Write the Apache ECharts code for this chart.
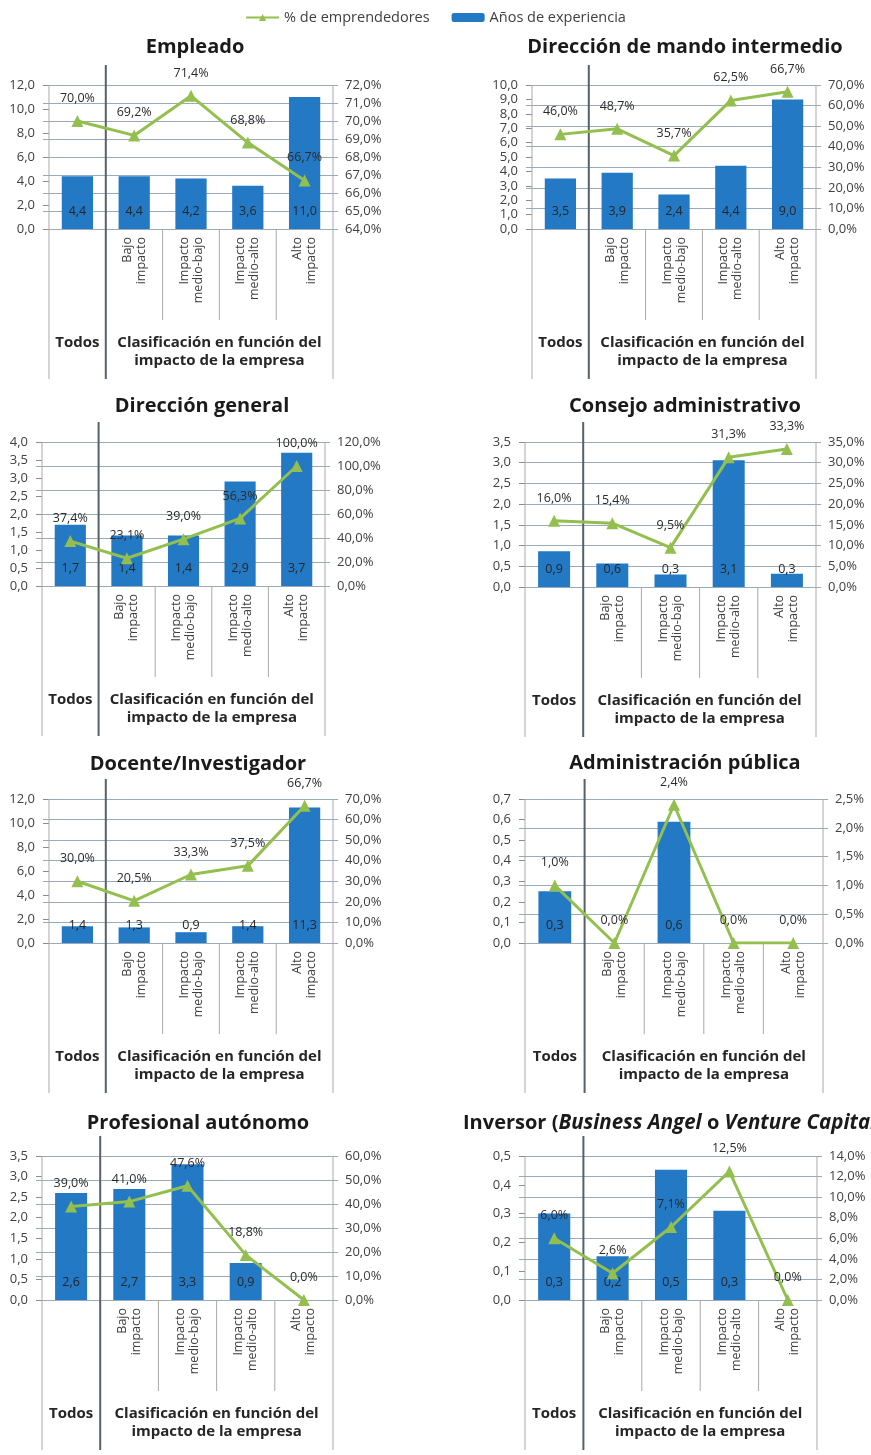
<!DOCTYPE html>
<html>
<head>
<meta charset="utf-8">
<script src="https://cdn.jsdelivr.net/npm/echarts@6/dist/echarts.min.js"></script>
<style>
  html, body { margin: 0; padding: 0; background: #ffffff; }
  #chart { width: 871px; height: 1455px; }
</style>
</head>
<body>
<div id="chart"></div>
<script>
// ---- Categories and labels ----
const categories = ['Todos', 'Bajo\nimpacto', 'Impacto\nmedio-bajo', 'Impacto\nmedio-alto', 'Alto\nimpacto'];
const groupLabel = 'Clasificación en función del\nimpacto de la empresa';
const allLabel = 'Todos';
const barName = 'Años de experiencia';
const lineName = '% de emprendedores';

// ---- Empleado ----
const empleadoYears = [4.4, 4.4, 4.2, 3.6, 11.0];
const empleadoPct = [70.0, 69.2, 71.4, 68.8, 66.7];
const empleadoLeftTicks = [0, 12, 2];
const empleadoRightTicks = [64, 72, 1];

// ---- Dirección de mando intermedio ----
const mandoYears = [3.5, 3.9, 2.4, 4.4, 9.0];
const mandoPct = [46.0, 48.7, 35.7, 62.5, 66.7];
const mandoLeftTicks = [0, 10, 1];
const mandoRightTicks = [0, 70, 10];

// ---- Dirección general ----
const generalYears = [1.7, 1.4, 1.4, 2.9, 3.7];
const generalPct = [37.4, 23.1, 39.0, 56.3, 100.0];
const generalLeftTicks = [0, 4, 0.5];
const generalRightTicks = [0, 120, 20];

// ---- Consejo administrativo ----
const consejoYears = [0.86, 0.57, 0.3, 3.06, 0.32];
const consejoPct = [16.0, 15.4, 9.5, 31.3, 33.3];
const consejoLeftTicks = [0, 3.5, 0.5];
const consejoRightTicks = [0, 35, 5];

// ---- Docente/Investigador ----
const docenteYears = [1.4, 1.3, 0.9, 1.4, 11.3];
const docentePct = [30.0, 20.5, 33.3, 37.5, 66.7];
const docenteLeftTicks = [0, 12, 2];
const docenteRightTicks = [0, 70, 10];

// ---- Administración pública ----
const publicaYears = [0.252, null, 0.59, null, null];
const publicaPct = [1.0, 0.0, 2.4, 0.0, 0.0];
const publicaLeftTicks = [0, 0.7, 0.1];
const publicaRightTicks = [0, 2.5, 0.5];

// ---- Profesional autónomo ----
const autonomoYears = [2.6, 2.7, 3.3, 0.9, null];
const autonomoPct = [39.0, 41.0, 47.6, 18.8, 0.0];
const autonomoLeftTicks = [0, 3.5, 0.5];
const autonomoRightTicks = [0, 60, 10];

// ---- Inversor ----
const inversorYears = [0.3, 0.152, 0.452, 0.31, null];
const inversorPct = [6.0, 2.6, 7.1, 12.5, 0.0];
const inversorLeftTicks = [0, 0.5, 0.1];
const inversorRightTicks = [0, 14, 2];

// ---- Styling ----
const FONT = '"Open Sans", "Noto Sans", sans-serif';
const BAR_COLOR = '#2379c4';
const LINE_COLOR = '#93bf4e';
const GRID_COLOR = '#98aabb';
const BORDER_COLOR = '#a9a9a9';
const DIVIDER_COLOR = '#56616b';
const TEXT_COLOR = '#404040';
const TITLE_SIZE = 20;

const fmt1 = v => (Math.round(v * 10) / 10).toFixed(1).replace('.', ',');

// Panel layout: plot box (L, R, T, B) and title placement
const panels = [
  { title: 'Empleado', tx: 195, ty: 47, L: 49, R: 333, T: 85, B: 229,
    years: empleadoYears, pct: empleadoPct, lt: empleadoLeftTicks, rt: empleadoRightTicks },
  { title: 'Dirección de mando intermedio', tx: 685, ty: 47, L: 532, R: 816, T: 85, B: 229,
    years: mandoYears, pct: mandoPct, lt: mandoLeftTicks, rt: mandoRightTicks },
  { title: 'Dirección general', tx: 202, ty: 406, L: 42, R: 325, T: 442, B: 586,
    years: generalYears, pct: generalPct, lt: generalLeftTicks, rt: generalRightTicks },
  { title: 'Consejo administrativo', tx: 685, ty: 406, L: 525, R: 816, T: 442, B: 587,
    years: consejoYears, pct: consejoPct, lt: consejoLeftTicks, rt: consejoRightTicks },
  { title: 'Docente/Investigador', tx: 198, ty: 764, L: 49, R: 333, T: 799, B: 943,
    years: docenteYears, pct: docentePct, lt: docenteLeftTicks, rt: docenteRightTicks },
  { title: 'Administración pública', tx: 685, ty: 763, L: 525, R: 823, T: 799, B: 943,
    years: publicaYears, pct: publicaPct, lt: publicaLeftTicks, rt: publicaRightTicks },
  { title: 'Profesional autónomo', tx: 198, ty: 1123, L: 42, R: 333, T: 1156, B: 1300,
    years: autonomoYears, pct: autonomoPct, lt: autonomoLeftTicks, rt: autonomoRightTicks },
  { title: null, tx: 463, ty: 1123, L: 525, R: 817, T: 1156, B: 1300,
    years: inversorYears, pct: inversorPct, lt: inversorLeftTicks, rt: inversorRightTicks }
];

const grid = [], xAxis = [], yAxis = [], series = [], graphic = [];

panels.forEach((p, i) => {
  const w = p.R - p.L, h = p.B - p.T;
  const gMain = i * 2, gLines = i * 2 + 1;

  grid.push({ left: p.L, top: p.T, width: w, height: h, containLabel: false, outerBoundsMode: 'none' });
  // wider twin grid carrying only the horizontal rules (they overhang the plot a little)
  grid.push({ left: p.L - 6, top: p.T, width: w + 11, height: h, containLabel: false, outerBoundsMode: 'none' });

  xAxis.push({
    type: 'category', gridIndex: gMain, data: categories, boundaryGap: true,
    axisLine: { show: false }, axisTick: { show: false },
    axisLabel: {
      interval: 0, rotate: 90, margin: 8, fontSize: 12.5, lineHeight: 14,
      color: TEXT_COLOR, fontFamily: FONT,
      formatter: (v, idx) => idx === 0 ? '' : v
    }
  });
  xAxis.push({ type: 'value', gridIndex: gLines, min: 0, max: 1, show: false });

  yAxis.push({
    type: 'value', gridIndex: gMain, position: 'left',
    min: p.lt[0], max: p.lt[1], interval: p.lt[2],
    axisLine: { show: false },
    axisTick: { show: true, length: 6, lineStyle: { color: '#8c8c8c' } },
    splitLine: { show: false },
    axisLabel: { margin: 14, fontSize: 13, color: TEXT_COLOR, fontFamily: FONT, formatter: v => fmt1(v) }
  });
  yAxis.push({
    type: 'value', gridIndex: gMain, position: 'right',
    min: p.rt[0], max: p.rt[1], interval: p.rt[2],
    axisLine: { show: false }, axisTick: { show: false }, splitLine: { show: false },
    axisLabel: { margin: 12, fontSize: 13, color: TEXT_COLOR, fontFamily: FONT, formatter: v => fmt1(v) + '%' }
  });
  yAxis.push({
    type: 'value', gridIndex: gLines,
    min: p.rt[0], max: p.rt[1], interval: p.rt[2],
    axisLine: { show: false }, axisTick: { show: false }, axisLabel: { show: false },
    splitLine: { show: true, lineStyle: { color: GRID_COLOR, width: 1 } }
  });

  series.push({
    name: barName, type: 'bar', xAxisIndex: gMain, yAxisIndex: i * 3,
    data: p.years, barWidth: '55%',
    itemStyle: { color: BAR_COLOR },
    label: {
      show: true, position: 'insideBottom', distance: 11,
      color: '#262626', fontSize: 12.5, fontFamily: FONT, textBorderWidth: 0,
      formatter: d => d.value == null ? '' : fmt1(d.value)
    },
    z: 3
  });
  series.push({
    name: lineName, type: 'line', xAxisIndex: gMain, yAxisIndex: i * 3 + 1,
    data: p.pct, symbol: 'triangle', symbolSize: 12,
    lineStyle: { color: LINE_COLOR, width: 3 },
    itemStyle: { color: LINE_COLOR },
    label: {
      show: true, position: 'top', distance: 10,
      color: '#2b2b2b', fontSize: 12.5, fontFamily: FONT,
      formatter: d => fmt1(d.value) + '%'
    },
    z: 4
  });

  // category frame below the plot
  const catW = w / 5;
  const bottom = p.B + 150;
  const vline = (x, y1, y2, color, width) => ({
    type: 'line', silent: true, z: 1,
    shape: { x1: x, y1: y1, x2: x, y2: y2 },
    style: { stroke: color, lineWidth: width }
  });
  graphic.push(vline(p.L, p.T, bottom, BORDER_COLOR, 1));
  graphic.push(vline(p.R, p.T, bottom, BORDER_COLOR, 1));
  graphic.push(vline(p.L + catW, p.T - 20, bottom, DIVIDER_COLOR, 2));
  for (let k = 2; k <= 4; k++) graphic.push(vline(p.L + catW * k, p.B, p.B + 91, BORDER_COLOR, 1));

  const fy = p.B + 114;
  graphic.push({
    type: 'text', silent: true,
    style: { text: allLabel, x: p.L + catW / 2, y: fy, align: 'center', verticalAlign: 'middle',
             fontSize: 15, fontWeight: 'bold', fontFamily: FONT, fill: '#262626' }
  });
  graphic.push({
    type: 'text', silent: true,
    style: { text: groupLabel, x: (p.L + catW + p.R) / 2, y: fy + 9, align: 'center', verticalAlign: 'middle',
             fontSize: 15, fontWeight: 'bold', fontFamily: FONT, fill: '#262626', lineHeight: 18 }
  });

  if (p.title) {
    graphic.push({
      type: 'text', silent: true,
      style: { text: p.title, x: p.tx, y: p.ty, align: 'center', verticalAlign: 'middle',
               fontSize: TITLE_SIZE, fontWeight: 'bold', fontFamily: FONT, fill: '#1a1a1a' }
    });
  } else {
    graphic.push({
      type: 'text', silent: true,
      style: {
        text: 'Inversor ({i|Business Angel} o {i|Venture Capital})',
        x: p.tx, y: p.ty, align: 'left', verticalAlign: 'middle',
        fontSize: TITLE_SIZE, fontWeight: 'bold', fontFamily: FONT, fill: '#1a1a1a',
        rich: { i: { fontSize: TITLE_SIZE + 0.5, fontWeight: 'bold', fontStyle: 'italic', fontFamily: FONT, fill: '#1a1a1a' } }
      }
    });
  }
});

const chart = echarts.init(document.getElementById('chart'), null, { renderer: 'canvas', width: 871, height: 1455 });
chart.setOption({
  animation: false,
  backgroundColor: '#ffffff',
  legend: {
    data: [lineName, barName], left: 'center', top: 5,
    itemWidth: 33, itemHeight: 9, itemGap: 22,
    textStyle: { fontSize: 14.5, color: TEXT_COLOR, fontFamily: FONT }
  },
  grid: grid, xAxis: xAxis, yAxis: yAxis, series: series, graphic: graphic
});
</script>
</body>
</html>
